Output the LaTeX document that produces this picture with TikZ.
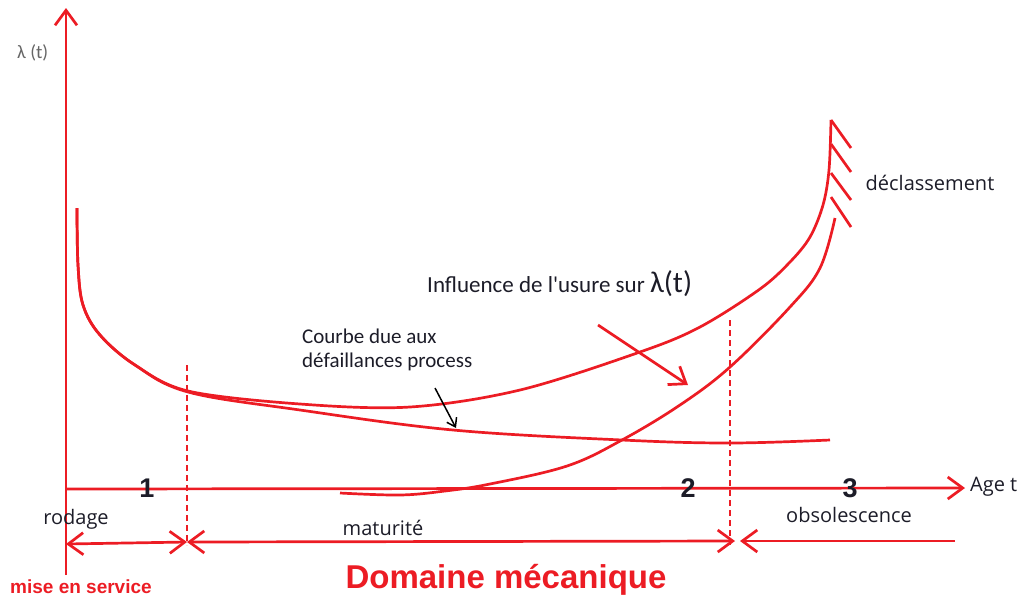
\documentclass[tikz,border=0pt]{standalone}
\usepackage{fontspec}
\setmainfont{Open Sans}
\newfontfamily\calibrifont{Carlito}
\newfontfamily\arialfont{Liberation Sans}
\usetikzlibrary{arrows.meta,calc}
\definecolor{lred}{RGB}{236,28,36}
\definecolor{ltext}{RGB}{28,28,40}

\begin{document}
\begin{tikzpicture}[x=1pt,y=-1pt,
	redline/.style={draw=lred,line width=2.7pt},
	barb/.style={-{Straight Barb[length=15pt,width=22pt]}},
	twobarb/.style={{Straight Barb[length=15pt,width=22pt]}-{Straight Barb[length=15pt,width=22pt]}},
	dashline/.style={redline,dash pattern=on 6pt off 4pt},
	lbl/.style={text=ltext,font=\fontsize{20}{22}\selectfont,inner sep=0pt},
	num/.style={text=ltext,font=\arialfont\bfseries\fontsize{27}{29}\selectfont,inner sep=0pt}]
		\useasboundingbox (0,0) rectangle (1024,598);
		
		%Axes
		\coordinate (ybot) at (66,575);
		\coordinate (ytop) at (66,8);
		\coordinate (xleft) at (66,489);
		\coordinate (xright) at (965,488);
		\draw[redline,barb] (ybot) -- (ytop);
		\draw[redline,barb] (xleft) -- (xright);
		\node[lbl,anchor=west] (age) at (970,487) {Age t};
		\node[text=gray!80!black,font=\calibrifont\fontsize{19}{21}\selectfont,inner sep=0pt,anchor=west] (lambda) at (17,53) {λ (t)};
		
		% Phase numbers
		\node[num] (n1) at (147,488) {1};
		\node[num] (n2) at (688,488) {2};
		\node[num] (n3) at (850,488) {3};
		
		% Phase limits
		\coordinate (d1top) at (187,365);
		\coordinate (d1bot) at (187,545);
		\coordinate (d2top) at (730,320);
		\coordinate (d2bot) at (730,545);
		\draw[dashline] (d1top) -- (d1bot);
		\draw[dashline] (d2top) -- (d2bot);
		
		% Phase arrows
		\coordinate (s0) at (66,544);
		\coordinate (s1) at (187,542);
		\coordinate (s2) at (735,541);
		\coordinate (s3) at (740,541);
		\coordinate (s4) at (955,541);
		\draw[redline,twobarb] (s0) -- (s1);
		\draw[redline,twobarb] (s1) -- (s2);
		\draw[redline,barb] (s4) -- (s3);
		
		% Curves
		\draw[redline] plot[smooth,tension=0.6] coordinates {(77,208) (78,265) (83,305) (100,335) (135,365) (188,392) (300,410) (453,430) (622,440) (730,443) (830,440)};
		\draw[redline] plot[smooth,tension=0.55] coordinates {(77,208) (78,265) (83,305) (100,335) (135,365) (188,391) (300,404) (410,407) (520,390) (640,352) (700,327) (760,289) (790,262) (810,237) (823,205) (829,170) (831,120)};
		\draw[redline] plot[smooth,tension=0.6] coordinates {(340,493) (400,495) (445,491) (490,484) (567,466) (622,440) (680,405) (730,367) (790,307) (820,268) (835,218)};
		
		% Hatching
		\foreach \ya/\yb in {120/148,144/172,173/200,197/227}
		\draw[redline] (831,\ya) -- (851,\yb);
		
		% Labels
		\node[lbl] (declass) at (930,183) {déclassement};
		\node[lbl] (obso) at (849,515) {obsolescence};
		\node[lbl] (matur) at (383,528) {maturité};
		\node[lbl] (rodage) at (76,519) {rodage};
		\node[lbl,anchor=west,font=\calibrifont\fontsize{23}{25}\selectfont] (influ) at (427,284) {Influence de l'usure sur {\fontsize{30}{32}\selectfont λ(t)}};
		\node[lbl,anchor=west,align=left,font=\calibrifont\fontsize{21}{24}\selectfont] (courbe) at (302,350) {Courbe due aux\\défaillances process};
		\node[text=lred,font=\arialfont\bfseries\fontsize{19}{21}\selectfont,inner sep=0pt,anchor=west] (mise) at (10,587) {mise en service};
		\node[text=lred,font=\arialfont\bfseries\fontsize{33}{35}\selectfont,inner sep=0pt] (domaine) at (506,580) {Domaine mécanique};
		
		% Pointers
		\coordinate (pa) at (598,325);
		\coordinate (pb) at (688,385);
		\draw[redline,barb] (pa) -- (pb);
		\coordinate (pc) at (435,388);
		\coordinate (pd) at (456,428);
		\draw[black,line width=1.5pt,-{Straight Barb[length=8pt,width=11pt]}] (pc) -- (pd);
	\end{tikzpicture}
\end{document}
